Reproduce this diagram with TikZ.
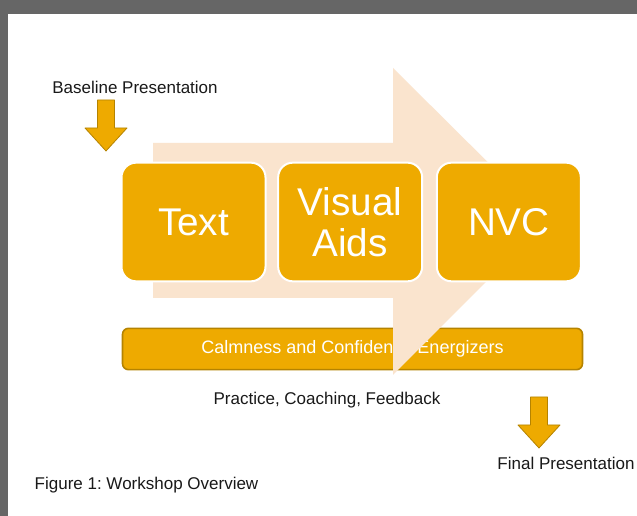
\documentclass[tikz,border=0pt]{standalone}
\usepackage{fontspec}
\setmainfont{Liberation Sans}
\usetikzlibrary{positioning}
\definecolor{framegray}{HTML}{666666}
\definecolor{gold}{HTML}{EEAA00}
\definecolor{golddark}{HTML}{B58300}
\definecolor{peach}{HTML}{FAE4CE}
\tikzset{
  stepbox/.style = {rectangle, rounded corners=11pt, fill=gold, draw=white,
    line width=1.5pt, minimum width=108pt, minimum height=89pt,
    text=white, align=center, font=\fontsize{29}{31}\selectfont},% the three steps
  barbox/.style = {rectangle, rounded corners=4.5pt, fill=gold, draw=golddark,
    line width=1.2pt, minimum width=345pt, minimum height=31pt,
    text=white, font=\fontsize{13.5}{16}\selectfont},% energizer bar
  caption/.style = {inner sep=0pt, text=black!90,
    font=\fontsize{12.75}{15}\selectfont\frenchspacing},
  dnarrow/.pic = {
    \filldraw[fill=gold, draw=golddark, line width=0.6pt, line join=round]
      (-8.5,0) -- (8.5,0) -- (8.5,28) -- (21,28) -- (0,51) -- (-21,28) -- (-8.5,28) -- cycle;
  }
}
\begin{document}
\begin{tikzpicture}[x=0.75pt, y=-0.75pt]
\useasboundingbox (0,0) rectangle (637,516);
\fill[framegray] (0,0) rectangle (637,516);
\fill[white] (8,14) rectangle (637,516);

\node[barbox] (energy) at (352.5,349) {Calmness and Confidence Energizers};

% big background arrow
\fill[peach] (153,143) -- (393,143) -- (393,68) -- (547,221) -- (393,375)
  -- (393,298) -- (153,298) -- cycle;

\node[stepbox] (text) at (193.5,222) {Text};
\node[stepbox] (visual) [right=8pt of text] {Visual\\Aids};
\node[stepbox] (nvc) [right=9.5pt of visual] {NVC};

\node[caption] (baseline) at (135,87) {Baseline Presentation};
\pic at (106,100) {dnarrow};

\node[caption] (practice) at (327,400) {Practice, Coaching, Feedback};
\pic at (539,397) {dnarrow};
\node[caption] (final) at (566,463) {Final Presentation};

\node[caption] (figcap) at (146.5,485) {Figure 1: Workshop Overview};
\end{tikzpicture}
\end{document}
